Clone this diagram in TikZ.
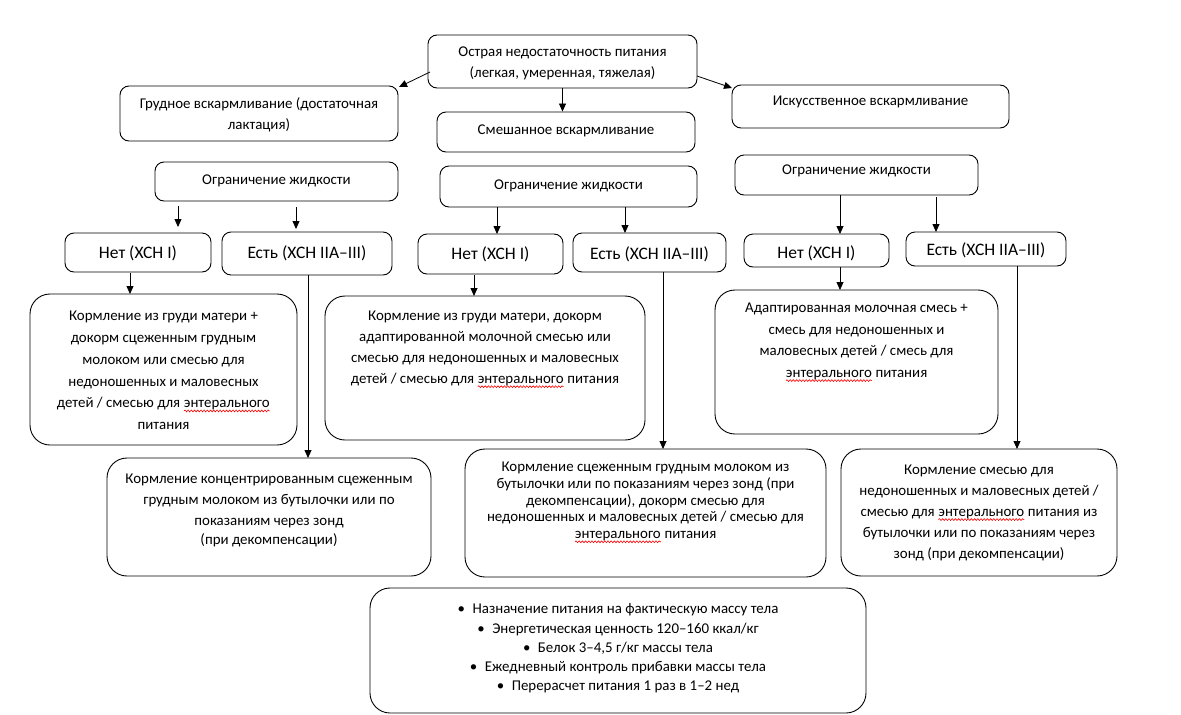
\documentclass[tikz,border=0pt]{standalone}
\usepackage{fontspec}
\setmainfont{Carlito}
\usetikzlibrary{arrows.meta,decorations.pathmorphing}
\newcommand\spellwave[1]{\tikz[baseline=(sw.base),x=1pt,y=1pt]{\node[inner sep=0pt,outer sep=0pt] (sw) {#1};\draw[red, line width=0.6pt, decorate, decoration={snake,amplitude=0.9pt,segment length=3.2pt}] ([yshift=-3pt]sw.base west) -- ([yshift=-3pt]sw.base east);}}
\begin{document}
\begin{tikzpicture}[x=1pt,y=-1pt,
  sbox/.style={draw, line width=0.9pt, rounded corners=9pt, inner sep=0pt},
  bbox/.style={draw, line width=0.9pt, rounded corners=20pt, inner sep=0pt},
  txt/.style={align=center, inner sep=0pt, font=\fontsize{14.9}{21}\selectfont},
  txtb/.style={align=center, inner sep=0pt, font=\fontsize{17.5}{21}\selectfont},
  arr/.style={-{Triangle[length=8pt,width=7pt]}, line width=0.8pt}]
\useasboundingbox (0,0) rectangle (1181,715);
% level 1
\node[sbox, minimum width=269, minimum height=53] (top) at (562.5,61.5) {};
\node[txt] (topT) at (562.5,63.5) {Острая недостаточность питания\\(легкая, умеренная, тяжелая)};
% level 2
\node[sbox, minimum width=278, minimum height=55] (grud) at (259,113.5) {};
\node[txt] (grudT) at (259,114.5) {Грудное вскармливание (достаточная\\лактация)};
\node[sbox, minimum width=258, minimum height=40] (mix) at (566,132) {};
\node[txt] (mixT) at (566,131) {Смешанное вскармливание};
\node[sbox, minimum width=277, minimum height=43] (art) at (870.5,106.5) {};
\node[txt] (artT) at (870.5,102) {Искусственное вскармливание};
% level 3
\node[sbox, minimum width=243, minimum height=39] (lim1) at (276.5,181.5) {};
\node[txt] (lim1T) at (276.5,181) {Ограничение жидкости};
\node[sbox, minimum width=257, minimum height=41] (lim2) at (568.5,186.5) {};
\node[txt] (lim2T) at (568.5,186) {Ограничение жидкости};
\node[sbox, minimum width=243, minimum height=40] (lim3) at (856.5,175) {};
\node[txt] (lim3T) at (856.5,171) {Ограничение жидкости};
% level 4
\node[sbox, minimum width=146, minimum height=39] (no1) at (138,252.5) {};
\node[txtb] (no1T) at (138,253) {Нет (ХСН I)};
\node[sbox, minimum width=170, minimum height=43] (yes1) at (307,253.5) {};
\node[txtb] (yes1T) at (307,253) {Есть (ХСН IIA–III)};
\node[sbox, minimum width=145, minimum height=40] (no2) at (490.5,254) {};
\node[txtb] (no2T) at (490.5,254) {Нет (ХСН I)};
\node[sbox, minimum width=153, minimum height=39] (yes2) at (649.5,252.5) {};
\node[txtb] (yes2T) at (649.5,254) {Есть (ХСН IIA–III)};
\node[sbox, minimum width=145, minimum height=33] (no3) at (816.5,250.5) {};
\node[txtb] (no3T) at (816.5,253) {Нет (ХСН I)};
\node[sbox, minimum width=160, minimum height=34] (yes3) at (986,249) {};
\node[txtb] (yes3T) at (986,250) {Есть (ХСН IIA–III)};
% level 5
\node[bbox, minimum width=267, minimum height=151] (f1) at (163.5,369.5) {};
\node[txt, font=\fontsize{14.9}{21.8}\selectfont] (f1T) at (163.5,370.5) {Кормление из груди матери +\\докорм сцеженным грудным\\молоком или смесью для\\недоношенных и маловесных\\детей / смесью для \spellwave{энтерального}\\питания};
\node[bbox, minimum width=320, minimum height=144] (f2) at (485,368) {};
\node[txt] (f2T) at (485,349.5) {Кормление из груди матери, докорм\\адаптированной молочной смесью или\\смесью для недоношенных и маловесных\\детей / смесью для \spellwave{энтерального} питания};
\node[bbox, minimum width=283, minimum height=144] (f3) at (856.5,362) {};
\node[txt, font=\fontsize{14.9}{21.6}\selectfont] (f3T) at (856.5,342.5) {Адаптированная молочная смесь +\\смесь для недоношенных и\\маловесных детей / смесь для\\\spellwave{энтерального} питания};
% level 6
\node[bbox, minimum width=324, minimum height=118] (g1) at (269,517) {};
\node[txt] (g1T) at (269,510) {Кормление концентрированным сцеженным\\грудным молоком из бутылочки или по\\показаниям через зонд\\[-2pt](при декомпенсации)};
\node[bbox, minimum width=361, minimum height=128] (g2) at (645.5,513) {};
\node[txt, font=\fontsize{14.9}{16.8}\selectfont] (g2T) at (645.5,502.5) {Кормление сцеженным грудным молоком из\\бутылочки или по показаниям через зонд (при\\декомпенсации), докорм смесью для\\недоношенных и маловесных детей / смесью для\\\spellwave{энтерального} питания};
\node[bbox, minimum width=276, minimum height=127] (g3) at (979,512.5) {};
\node[txt] (g3T) at (979,513) {Кормление смесью для\\недоношенных и маловесных детей /\\смесью для \spellwave{энтерального} питания из\\бутылочки или по показаниям через\\зонд (при декомпенсации)};
% level 7
\node[bbox, minimum width=496, minimum height=125] (bot) at (618,650.5) {};
\node[txt, font=\fontsize{14.9}{19.25}\selectfont] (botT) at (618,648.5) {•\enspace Назначение питания на фактическую массу тела\\•\enspace Энергетическая ценность 120–160 ккал/кг\\•\enspace Белок 3–4,5 г/кг массы тела\\•\enspace Ежедневный контроль прибавки массы тела\\•\enspace Перерасчет питания 1 раз в 1–2 нед};
% coordinates for free-standing arrows
\coordinate (a1s) at (178,206); \coordinate (a1e) at (178,227);
\coordinate (a2s) at (296,207); \coordinate (a2e) at (296,229);
\coordinate (a3s) at (497,207); \coordinate (a3e) at (497,234);
\coordinate (a4s) at (625,207); \coordinate (a4e) at (625,233);
\coordinate (a5s) at (840,195); \coordinate (a5e) at (840,234);
\coordinate (a6s) at (936,197); \coordinate (a6e) at (936,232);
\coordinate (b1s) at (130,273); \coordinate (b1e) at (130,294);
\coordinate (b2s) at (474,275); \coordinate (b2e) at (474,296);
\coordinate (b3s) at (840,267); \coordinate (b3e) at (840,290);
\coordinate (c1s) at (308,275); \coordinate (c1e) at (308,458);
\coordinate (c2s) at (663,272); \coordinate (c2e) at (663,449);
\coordinate (c3s) at (1017,266); \coordinate (c3e) at (1017,449);
\coordinate (t1s) at (430,72); \coordinate (t1e) at (399,87);
\coordinate (t3s) at (697,76); \coordinate (t3e) at (732,88);
% connectors
\draw[arr] (t1s) -- (t1e);
\draw[arr] (t3s) -- (t3e);
\draw[arr] (top.south) -- (top.south |- mix.north);
\foreach \s/\e in {a1s/a1e,a2s/a2e,a3s/a3e,a4s/a4e,a5s/a5e,a6s/a6e,b1s/b1e,b2s/b2e,b3s/b3e,c1s/c1e,c2s/c2e,c3s/c3e}
  \draw[arr] (\s) -- (\e);
\end{tikzpicture}
\end{document}
